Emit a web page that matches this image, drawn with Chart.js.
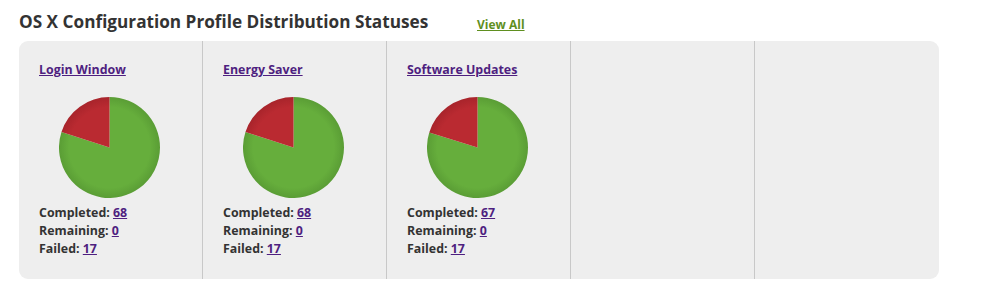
<!DOCTYPE html>
<html>
<head>
<meta charset="utf-8">
<script src="https://cdn.jsdelivr.net/npm/chart.js@4"></script>
<style>
  html, body { margin: 0; padding: 0; background: #fff; }
  body { width: 985px; height: 304px; position: relative; overflow: hidden;
         font-family: "Open Sans", sans-serif; color: #333; }
  a { color: #4e1f80; text-decoration: underline; }
  #title { position: absolute; left: 19px; top: 10px; font-size: 17.2px; font-weight: bold;
           white-space: nowrap; color: #333; }
  #viewall { position: absolute; left: 477px; top: 16px; font-size: 12px; font-weight: bold;
             color: #5f8f1f; }
  #panel { position: absolute; left: 19px; top: 41px; width: 920px; height: 238px;
           background: #eeeeee; border-radius: 9px; }
  .col { position: absolute; top: 0; height: 238px; width: 184px; }
  .col + .col { border-left: 1px solid #c8c8c8; }
  .col h4 { position: absolute; left: 20px; top: 20px; margin: 0; font-size: 12.4px;
            font-weight: bold; white-space: nowrap; }
  .col canvas { position: absolute; top: 56px; }
  .col .stats { position: absolute; left: 20px; top: 163px; font-size: 12.4px;
                font-weight: bold; line-height: 18px; white-space: nowrap; }
</style>
</head>
<body>
<div id="title">OS X Configuration Profile Distribution Statuses</div>
<a id="viewall" href="#">View All</a>
<div id="panel"></div>

<script>
// Datos de perfiles
const profiles = ['Login Window', 'Energy Saver', 'Software Updates']
const statusLabels = ['Completed', 'Remaining', 'Failed']
const completed = [68, 68, 67]
const remaining = [0, 0, 0]
const failed = [17, 17, 17]
const columnCount = 5

const panel = document.getElementById('panel')

// sombreado radial leve como en el original
function shade (ctx, inner, outer) {
  const c = ctx.chart
  const a = c.chartArea
  if (!a) return inner
  const cx = (a.left + a.right) / 2
  const cy = (a.top + a.bottom) / 2
  const r = Math.min(a.right - a.left, a.bottom - a.top) / 2
  const g = c.ctx.createRadialGradient(cx, cy, 0, cx, cy, r)
  g.addColorStop(0, inner)
  g.addColorStop(0.8, inner)
  g.addColorStop(1, outer)
  return g
}

const sliceColors = [
  ['#66ae3c', '#5a9d35'],
  ['#e0c030', '#c8a828'],
  ['#ba2a31', '#a8242b']
]

for (let i = 0; i < columnCount; i++) {
  const col = document.createElement('div')
  col.className = 'col'
  col.style.left = (i ? i * 184 - 1 : 0) + 'px'
  panel.appendChild(col)
  if (i >= profiles.length) continue

  const values = [completed[i], remaining[i], failed[i]]
  col.innerHTML = `
    <h4><a href="#">${profiles[i]}</a></h4>
    <canvas width="101" height="101" style="left:40px"></canvas>
    <div class="stats">
      ${statusLabels.map((l, k) => `${l}: <a href="#">${values[k]}</a>`).join('<br>')}
    </div>`

  new Chart(col.querySelector('canvas'), {
    type: 'pie',
    data: {
      labels: statusLabels,
      datasets: [{
        data: values,
        backgroundColor: ctx => shade(ctx, sliceColors[ctx.dataIndex][0], sliceColors[ctx.dataIndex][1]),
        borderWidth: 0
      }]
    },
    options: {
      responsive: false,
      animation: false,
      layout: { padding: 0 },
      plugins: { legend: { display: false }, tooltip: { enabled: false } }
    }
  })
}
</script>
</body>
</html>
